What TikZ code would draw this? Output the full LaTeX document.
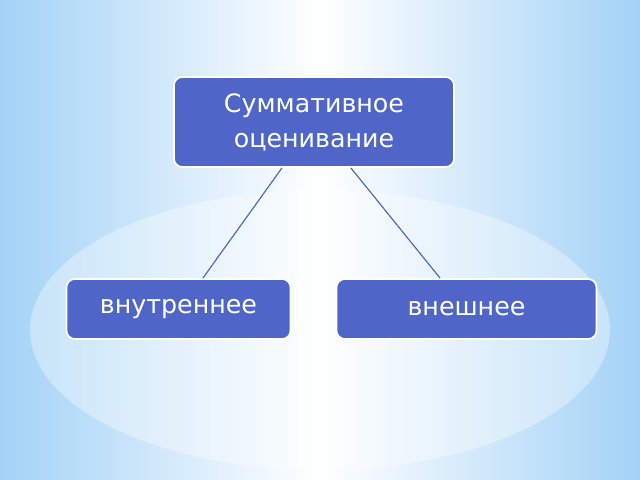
\documentclass[tikz,border=0pt]{standalone}
\usepackage{fontspec}
\setmainfont{DejaVu Sans}
\usetikzlibrary{positioning}
\definecolor{bgblue}{HTML}{A3D2F6}
\definecolor{boxblue}{HTML}{4F66C8}
\definecolor{linkblue}{HTML}{4A62B8}
\begin{document}
\begin{tikzpicture}[x=0.025cm,y=-0.025cm,
    box/.style={draw=white,line width=1.2pt,fill=boxblue,rounded corners=6pt,text=white,
      align=center,inner sep=0pt,font=\fontsize{18}{25}\selectfont},
    link/.style={draw=linkblue,line width=0.8pt}]
  % background
  \shade[left color=bgblue,right color=bgblue,middle color=white] (0,0) rectangle (640,480);
  \fill[white,opacity=0.35] (320,330) ellipse (290 and 140);
  \useasboundingbox (0,0) rectangle (640,480);

  \node[box,minimum width=7cm,minimum height=2.25cm]   (sum)  at (314,122)   {Суммативное\\оценивание};
  \node[box,minimum width=5.6cm,minimum height=1.5cm]  (inner) at (178.5,309) {внутреннее};
  \node[box,minimum width=6.5cm,minimum height=1.5cm]  (outer) at (466.5,309) {внешнее};

  \path[link] ([xshift=-0.8cm]sum.south) -- ([xshift=0.61cm]inner.north);
  \path[link] ([xshift=0.92cm]sum.south) -- ([xshift=-0.66cm]outer.north);
\end{tikzpicture}
\end{document}
